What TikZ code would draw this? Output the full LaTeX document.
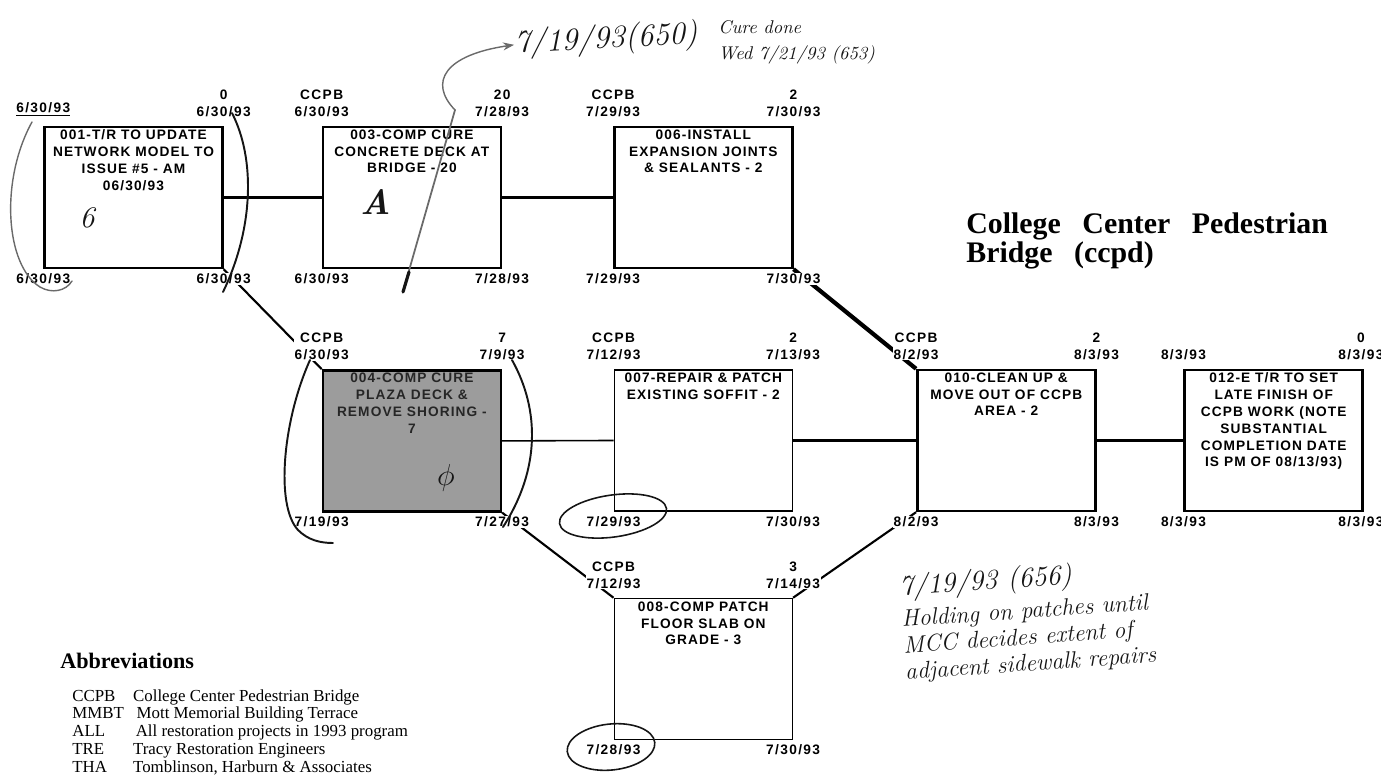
\documentclass[tikz,border=0pt]{standalone}
\usepackage{fontspec}
\newfontfamily\netfont[LetterSpace=8]{Liberation Sans}
\newfontfamily\datefont[LetterSpace=10]{Liberation Sans}
\newfontfamily\timesfont{Liberation Serif}
\usetikzlibrary{positioning, backgrounds, arrows.meta}
\definecolor{markergrey}{HTML}{9c9c9c}
\definecolor{pencilgrey}{HTML}{6a6a6a}
\definecolor{penink}{HTML}{151515}
\tikzset{
  actbox/.style={rectangle, draw=black, line width=1.4pt, fill=white,
                 minimum width=3.56cm, minimum height=2.82cm, inner sep=0pt},
  thinbox/.style={actbox, line width=0.9pt},
  shadedbox/.style={actbox, fill=markergrey},
  acttext/.style={font=\netfont\bfseries\fontsize{7.8}{9.6}\selectfont,
                  align=center, inner sep=0pt},
  cornlab/.style={font=\datefont\bfseries\fontsize{7.8}{9.6}\selectfont,
                  align=center, fill=white, inner sep=0.6pt},
  link/.style={draw=black, line width=1.2pt},
  boldlink/.style={draw=black, line width=2.4pt},
  pen/.style={draw=penink, line width=1.1pt, line cap=round},
  pencil/.style={draw=pencilgrey, line width=0.8pt, line cap=round},
  handnote/.style={font=\itshape\fontsize{13.5}{15}\selectfont, text=penink,
                   align=left, inner sep=0pt},
  handmark/.style={font=\itshape\fontsize{17}{17}\selectfont, text=penink, inner sep=0pt},
  titletext/.style={font=\timesfont\bfseries\fontsize{17}{15}\selectfont,
                    align=left, inner sep=0pt},
  abbrhead/.style={font=\timesfont\bfseries\fontsize{12.6}{15}\selectfont, inner sep=0pt},
  abbrlist/.style={font=\timesfont\fontsize{9.6}{10.2}\selectfont, inner sep=0pt},
}
\begin{document}
\begin{tikzpicture}[x=0.02cm, y=-0.02cm]
  \useasboundingbox (0,0) rectangle (1381,774);

  % Activity boxes, first row
  \node[actbox]                      (a001) at (133.5,197.5) {};
  \node[actbox, right=1.96cm of a001] (a003) {};
  \node[actbox, right=2.22cm of a003] (a006) {};
  % second row
  \node[shadedbox, below=2cm of a003] (a004) {};
  \node[thinbox, below=2cm of a006]   (a007) {};
  \node[actbox, right=2.46cm of a007] (a010) {};
  \node[actbox, right=1.74cm of a010] (a012) {};
  % third row
  \node[thinbox, below=1.72cm of a007] (a008) {};

  % Activity descriptions
  \node[acttext, anchor=north, below=0.07cm of a001.north] (t001) {001-T/R TO UPDATE\\NETWORK MODEL TO\\ISSUE \#5 - AM\\06/30/93};
  \node[acttext, anchor=north, below=0.07cm of a003.north] (t003) {003-COMP CURE\\CONCRETE DECK AT\\BRIDGE - 20};
  \node[acttext, anchor=north, below=0.07cm of a006.north] (t006) {006-INSTALL\\EXPANSION JOINTS\\\& SEALANTS - 2};
  \node[acttext, anchor=north, below=0.07cm of a004.north, text=black!85] (t004) {004-COMP CURE\\PLAZA DECK \&\\REMOVE SHORING -\\7};
  \node[acttext, anchor=north, below=0.07cm of a007.north] (t007) {007-REPAIR \& PATCH\\EXISTING SOFFIT - 2};
  \node[acttext, anchor=north, below=0.07cm of a010.north] (t010) {010-CLEAN UP \&\\MOVE OUT OF CCPB\\AREA - 2};
  \node[acttext, anchor=north, below=0.07cm of a012.north] (t012) {012-E T/R TO SET\\LATE FINISH OF\\CCPB WORK (NOTE\\SUBSTANTIAL\\COMPLETION DATE\\IS PM OF 08/13/93)};
  \node[acttext, anchor=north, below=0.07cm of a008.north] (t008) {008-COMP PATCH\\FLOOR SLAB ON\\GRADE - 3};

  % Links (behind the corner dates)
  \begin{scope}[on background layer]
    \draw[link] (a001.east) -- (a003.west);
    \draw[link] (a003.east) -- (a006.west);
    \draw[link, line width=0.9pt] (a004.east) -- (a007.west);
    \draw[link] (a007.east) -- (a010.west);
    \draw[link] (a010.east) -- (a012.west);
    \draw[link] (a001.south east) -- (a004.north west);
    \draw[boldlink] (a006.south east) -- (a010.north west);
    \draw[link] (a004.south east) -- (a008.north west);
    \draw[link] (a008.north east) -- (a010.south west);
  \end{scope}

  % Corner dates: early start / early finish on top, late start / late finish below
  \node[cornlab, above=0.16cm of a001.north west] (es001) {\underline{6/30/93}};
  \node[cornlab, above=0.16cm of a001.north east] (ef001) {0\\6/30/93};
  \node[cornlab, below=0.06cm of a001.south west] (ls001) {6/30/93};
  \node[cornlab, below=0.06cm of a001.south east] (lf001) {6/30/93};

  \node[cornlab, above=0.16cm of a003.north west] (es003) {CCPB\\6/30/93};
  \node[cornlab, above=0.16cm of a003.north east] (ef003) {20\\7/28/93};
  \node[cornlab, below=0.06cm of a003.south west] (ls003) {6/30/93};
  \node[cornlab, below=0.06cm of a003.south east] (lf003) {7/28/93};

  \node[cornlab, above=0.16cm of a006.north west] (es006) {CCPB\\7/29/93};
  \node[cornlab, above=0.16cm of a006.north east] (ef006) {2\\7/30/93};
  \node[cornlab, below=0.06cm of a006.south west] (ls006) {7/29/93};
  \node[cornlab, below=0.06cm of a006.south east] (lf006) {7/30/93};

  \node[cornlab, above=0.16cm of a004.north west] (es004) {CCPB\\6/30/93};
  \node[cornlab, above=0.16cm of a004.north east] (ef004) {7\\7/9/93};
  \node[cornlab, below=0.06cm of a004.south west] (ls004) {7/19/93};
  \node[cornlab, below=0.06cm of a004.south east] (lf004) {7/27/93};

  \node[cornlab, above=0.16cm of a007.north west] (es007) {CCPB\\7/12/93};
  \node[cornlab, above=0.16cm of a007.north east] (ef007) {2\\7/13/93};
  \node[cornlab, below=0.06cm of a007.south west] (ls007) {7/29/93};
  \node[cornlab, below=0.06cm of a007.south east] (lf007) {7/30/93};

  \node[cornlab, above=0.16cm of a010.north west] (es010) {CCPB\\8/2/93};
  \node[cornlab, above=0.16cm of a010.north east] (ef010) {2\\8/3/93};
  \node[cornlab, below=0.06cm of a010.south west] (ls010) {8/2/93};
  \node[cornlab, below=0.06cm of a010.south east] (lf010) {8/3/93};

  \node[cornlab, above=0.16cm of a012.north west] (es012) {8/3/93};
  \node[cornlab, above=0.16cm of a012.north east, xshift=-0.06cm] (ef012) {0\\8/3/93};
  \node[cornlab, below=0.06cm of a012.south west] (ls012) {8/3/93};
  \node[cornlab, below=0.06cm of a012.south east, xshift=-0.06cm] (lf012) {8/3/93};

  \node[cornlab, above=0.16cm of a008.north west] (es008) {CCPB\\7/12/93};
  \node[cornlab, above=0.16cm of a008.north east] (ef008) {3\\7/14/93};
  \node[cornlab, below=0.06cm of a008.south west] (ls008) {7/28/93};
  \node[cornlab, below=0.06cm of a008.south east] (lf008) {7/30/93};

  % Title and abbreviations
  \node[titletext, anchor=north west] (title) at (966,212)
    {College\hspace{8pt} Center\hspace{8pt} Pedestrian\\Bridge\hspace{8pt} (ccpd)};
  \node[abbrhead, anchor=base west] (abbrtitle) at (60,668) {Abbreviations};
  \node[abbrlist, anchor=base west] (abbrtab) at (72,701) {%
    \begin{tabular}[t]{@{}p{34.6pt}@{}l@{}}
      CCPB & College Center Pedestrian Bridge\\
      MMBT & \hspace{2pt}Mott Memorial Building Terrace\\
      ALL  & \hspace{1.5pt}All restoration projects in 1993 program\\
      TRE  & Tracy Restoration Engineers\\
      THA  & Tomblinson, Harburn \& Associates
    \end{tabular}};

  % Handwritten notes
  \node[handnote, font=\itshape\fontsize{18}{18}\selectfont, rotate=3] (note650) at (606,40) {7/19/93(650)};
  \node[handnote, font=\itshape\fontsize{10.5}{15}\selectfont, anchor=west] (notecure) at (718,42) {Cure done\\Wed 7/21/93 (653)};
  \node[handnote, anchor=north west, rotate=4] (note656) at (898,574)
    {{\fontsize{16}{16}\selectfont 7/19/93 (656)}\\[3pt]Holding on patches until\\MCC decides extent of\\adjacent sidewalk repairs};
  \coordinate (arrowtail) at (455,110);
  \draw[pencil, -{Stealth[length=2.2mm, width=1.6mm]}] (arrowtail) .. controls (428,82) and (445,55) .. (note650.west);
  \draw[pencil, line width=1pt] (arrowtail) -- (404,288);
  \draw[pen, line width=1.8pt] (409,272) -- (403,292);

  % Pen marks on the boxes
  \node[handmark] (mark001) at (87,218) {6};
  \node[handmark, font=\bfseries\itshape\fontsize{20}{20}\selectfont] (mark003) at (376,202) {A};
  \node[handmark] (mark004) at (446,478) {$\phi$};
  \draw[pencil] (32,122) .. controls (0,180) and (5,265) .. (40,287) .. controls (52,294) and (66,291) .. (72,281);
  \draw[pen] (232,113) .. controls (256,160) and (253,230) .. (223,292);
  \draw[pen] (310,360) .. controls (283,420) and (275,505) .. (298,530) .. controls (308,540) and (320,543) .. (333,543);
  \draw[pen] (512,360) .. controls (540,410) and (540,470) .. (503,527);
  \draw[pen, line width=0.9pt, rotate around={8:(613,516)}] (613,516) ellipse [x radius=54, y radius=21];
  \draw[pen, line width=0.9pt, rotate around={6:(611,747)}] (611,747) ellipse [x radius=44, y radius=23];
\end{tikzpicture}
\end{document}
